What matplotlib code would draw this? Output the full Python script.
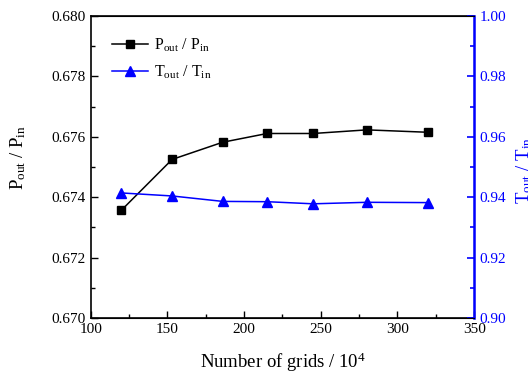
import matplotlib
matplotlib.use('Agg')
import matplotlib.pyplot as plt
from matplotlib.ticker import MultipleLocator, FormatStrFormatter

plt.rcParams['font.family'] = ['Liberation Serif', 'DejaVu Serif']
plt.rcParams['mathtext.fontset'] = 'custom'
plt.rcParams['mathtext.rm'] = 'Liberation Serif'
plt.rcParams['mathtext.it'] = 'Liberation Serif:italic'

# grid counts (x 10^4)
grids = [120, 153, 186, 215, 245, 280, 320]
# pressure ratio
p_ratio = [0.67357, 0.67525, 0.67582, 0.67611, 0.67611, 0.67623, 0.67615]
# temperature ratio
t_ratio = [0.9414, 0.9404, 0.9386, 0.9385, 0.9378, 0.9383, 0.9382]

fig = plt.figure(figsize=(5.28, 3.74), dpi=100)
ax = fig.add_axes([0.172, 0.150, 0.726, 0.807])
ax2 = ax.twinx()

l1, = ax.plot(grids, p_ratio, color='black', marker='s', markersize=6,
              linewidth=1.1, label=r'P$_{\rm out}$ / P$_{\rm in}$')
l2, = ax2.plot(grids, t_ratio, color='blue', marker='^', markersize=7,
               linewidth=1.1, label=r'T$_{\rm out}$ / T$_{\rm in}$')

ax.set_xlim(100, 350)
ax.set_ylim(0.670, 0.680)
ax2.set_ylim(0.90, 1.00)

ax.xaxis.set_major_locator(MultipleLocator(50))
ax.xaxis.set_minor_locator(MultipleLocator(25))
ax.yaxis.set_major_locator(MultipleLocator(0.002))
ax.yaxis.set_minor_locator(MultipleLocator(0.001))
ax2.yaxis.set_major_locator(MultipleLocator(0.02))
ax2.yaxis.set_minor_locator(MultipleLocator(0.01))
ax.yaxis.set_major_formatter(FormatStrFormatter('%.3f'))
ax2.yaxis.set_major_formatter(FormatStrFormatter('%.2f'))

ax.tick_params(which='both', direction='in', top=False, right=False,
               labelsize=11, pad=4)
ax.tick_params(which='major', length=5, width=1)
ax.tick_params(which='minor', length=3, width=1)
ax2.tick_params(which='both', direction='in', colors='blue', labelsize=11, pad=4)
ax2.tick_params(which='major', length=5, width=1.2)
ax2.tick_params(which='minor', length=3, width=1.2)

for s in ['left', 'bottom', 'top']:
    ax.spines[s].set_linewidth(1.2)
ax2.spines['right'].set_color('blue')
ax2.spines['right'].set_linewidth(1.8)
ax2.spines['left'].set_visible(False)

ax.set_xlabel(r'Number of grids / 10$^4$', fontsize=13.5)
ax.xaxis.set_label_coords(0.5, -0.11)
ax.set_ylabel(r'P$_{\rm out}$ / P$_{\rm in}$', fontsize=13.5)
ax.yaxis.set_label_coords(-0.163, 0.533)
ax2.set_ylabel(r'T$_{\rm out}$ / T$_{\rm in}$', fontsize=13.5, color='blue')
ax2.yaxis.set_label_coords(1.105, 0.49)

ax.legend(handles=[l1, l2], loc='upper left', frameon=False, fontsize=11.5,
          handlelength=2.3, handletextpad=0.35, borderaxespad=0.9,
          labelspacing=0.6, bbox_to_anchor=(0.0, 1.0))

fig.savefig('out.png', dpi=100)
